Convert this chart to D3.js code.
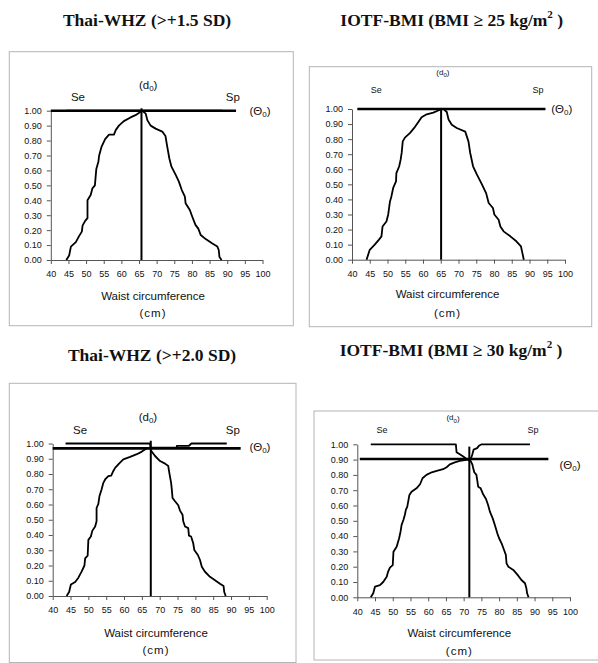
<!DOCTYPE html>
<html>
<head>
<meta charset="UTF-8">
<title>Se / Sp by waist circumference</title>
<script src="https://d3js.org/d3.v7.min.js"></script>
<style>
  body { margin: 0; background: #fff; }
  svg text { font-family: "Liberation Sans", Arial, sans-serif; fill: #111; }
  .title { font-family: "Liberation Serif", "Times New Roman", serif !important; font-weight: bold; }
</style>
</head>
<body>
<svg id="chart" width="598" height="663"></svg>
<script>
// ---- data ----
const titles = ["Thai-WHZ (>+1.5 SD)", "IOTF-BMI (BMI \u2265 25 kg/m", "Thai-WHZ (>+2.0 SD)", "IOTF-BMI (BMI \u2265 30 kg/m"];
const xTicks = [40, 45, 50, 55, 60, 65, 70, 75, 80, 85, 90, 95, 100];
const yTicks = [0, 0.1, 0.2, 0.3, 0.4, 0.5, 0.6, 0.7, 0.8, 0.9, 1.0];

// optimal cut-off (d0), its top end, and theta0 line level / extent
const cutoffs = [65.7, 65.1, 67.5, 71.6];
const cutTops = [1.016, 1.007, 1.018, 0.985];
const thetas = [1.0, 1.0, 0.968, 0.904];
const thetaFrom = [40, 41.5, 40, 40.7];
const thetaTo = [92.5, 94.5, 92.7, 93.9];

const whz15Se = [[44.4,1],[65.9,1],[66.9,0.98],[67.4,0.935],[68.3,0.90],[69.7,0.88],[71.6,0.86],[72.5,0.83],[73,0.76],[73.6,0.68],[74.2,0.625],[75.4,0.57],[76.3,0.525],[77.1,0.47],[78,0.425],[78.2,0.38],[79.4,0.335],[80.1,0.29],[81,0.235],[81.8,0.21],[82.5,0.167],[83.9,0.14],[85.8,0.11],[87.2,0.09],[87.6,0.067],[87.8,0.02],[88.4,0]];
const whz15Sp = [[44.4,0],[45.2,0.03],[45.7,0.09],[47.1,0.12],[48,0.16],[48.8,0.19],[49,0.23],[49.7,0.26],[50.4,0.28],[50.4,0.40],[51.3,0.435],[51.8,0.48],[52.5,0.50],[52.9,0.61],[53.5,0.66],[53.7,0.70],[54.4,0.76],[55.4,0.81],[56.5,0.84],[57.9,0.84],[58.4,0.87],[59.3,0.90],[60.7,0.93],[62.6,0.955],[64,0.97],[65.9,1.0],[88.6,1.0]];

const iotf25Se = [[43.9,1],[65.8,1],[66.7,0.98],[67.2,0.93],[68.1,0.896],[69.5,0.874],[71.9,0.85],[72.8,0.785],[73.3,0.708],[74.1,0.62],[75.2,0.564],[76.6,0.5],[77.8,0.44],[78.5,0.376],[79.7,0.343],[80.1,0.30],[81.3,0.265],[81.8,0.22],[82.7,0.188],[84.6,0.155],[86.3,0.122],[87.6,0.088],[87.9,0.055],[88.4,0]];
const iotf25Sp = [[44.1,0],[45,0.066],[46.4,0.10],[47.6,0.133],[48.3,0.155],[48.6,0.22],[49.7,0.254],[50.2,0.30],[50.7,0.387],[51.1,0.42],[51.6,0.476],[52.4,0.52],[52.5,0.575],[53.3,0.62],[53.7,0.664],[54,0.71],[54.3,0.785],[54.9,0.81],[56.3,0.84],[57.7,0.88],[58.7,0.914],[59.6,0.945],[60.8,0.962],[62.9,0.976],[64.3,0.99],[65.3,1.0],[88.9,1.0]];

const whz20Se = [[43.6,1],[67.3,1],[67.5,0.956],[68.7,0.918],[70.1,0.885],[71.5,0.868],[72.4,0.852],[72.7,0.808],[73.2,0.742],[73.4,0.698],[73.6,0.643],[74.3,0.621],[75.2,0.595],[75.7,0.56],[76.4,0.533],[76.6,0.49],[77.1,0.456],[78,0.445],[78.2,0.396],[78.8,0.39],[79.4,0.346],[79.7,0.302],[80.7,0.269],[81.3,0.236],[81.8,0.192],[82.7,0.159],[84.1,0.126],[85.5,0.104],[86.9,0.081],[87.9,0.066],[88.1,0.026],[88.5,0]];
const whz20Sp = [[43.9,0],[44.6,0.026],[45.1,0.075],[46.3,0.092],[47.2,0.12],[48.1,0.16],[48.9,0.2],[49.1,0.247],[49.8,0.264],[50,0.368],[50.7,0.39],[51.1,0.427],[51.9,0.456],[52.3,0.49],[52.3,0.577],[52.8,0.604],[53.1,0.654],[53.7,0.698],[54.2,0.742],[54.7,0.764],[55.6,0.786],[56.4,0.79],[57,0.82],[57.5,0.84],[58.6,0.868],[59.8,0.896],[61.7,0.912],[63.6,0.93],[65,0.947],[66.4,0.969],[67.5,0.972],[74.8,0.972],[74.8,0.985],[78.2,0.985],[78.9,1.0],[88.8,1.0]];

const iotf30Se = [[43.8,1],[67.8,1],[68,0.948],[68.9,0.935],[69.9,0.92],[70.8,0.904],[72,0.89],[72.5,0.865],[72.7,0.843],[73,0.817],[73.6,0.8],[74.1,0.723],[74.8,0.712],[75.5,0.673],[76.3,0.643],[76.9,0.603],[77.4,0.56],[78.2,0.516],[78.8,0.473],[79.5,0.418],[80,0.386],[80.7,0.353],[81.4,0.309],[81.9,0.277],[82.1,0.222],[82.6,0.2],[84,0.179],[85.1,0.15],[86.3,0.113],[87.3,0.092],[87.7,0.059],[87.9,0.026],[88.3,0]];
const iotf30Sp = [[43.8,0],[44.5,0.026],[45,0.07],[46.4,0.08],[47.3,0.10],[48.3,0.135],[48.7,0.168],[49.2,0.194],[50,0.21],[50.2,0.298],[51.1,0.331],[51.8,0.386],[52.2,0.43],[52.5,0.473],[53,0.505],[53.4,0.538],[53.7,0.571],[54.1,0.593],[54.7,0.669],[55.3,0.69],[56.7,0.712],[57.7,0.739],[58.4,0.778],[59.5,0.8],[61,0.817],[62.4,0.826],[64.2,0.837],[65.2,0.85],[66.1,0.869],[67.5,0.882],[68.9,0.891],[70.8,0.898],[72,0.904],[72.4,0.93],[72.8,0.965],[73.8,0.975],[74.3,0.99],[75.1,1.0],[88.7,1.0]];

const seCurves = [whz15Se, iotf25Se, whz20Se, iotf30Se];
const spCurves = [whz15Sp, iotf25Sp, whz20Sp, iotf30Sp];

// ---- layout of the four panels (pixels) ----
const layout = [
  { box: [9.3, 51.7, 293.3, 325.7], x: [50.8, 262.5], y: [260, 110.7], tx: 147, ty: 20, lx: 153, ly: [296, 313], small: false,
    se: [47.7, 1.092], sp: [91.6, 1.092], d0: [67.6, 1.172], th: [99.3, 1.0] },
  { box: [309.3, 66.7, 591.7, 326.7], x: [352, 565], y: [259.7, 109], tx: 451.7, ty: 20, lx: 447.5, ly: [294, 313], small: true,
    se: [46.8, 1.126], sp: [92.4, 1.126], d0: [65.6, 1.245], th: [99.1, 1.0] },
  { box: [9.3, 383.3, 296, 662.5], x: [52.7, 266.7], y: [596, 443.5], tx: 152, ty: 355, lx: 156, ly: [633, 650], small: false,
    se: [47.7, 1.089], sp: [90.5, 1.089], d0: [66.7, 1.174], th: [98.1, 0.975] },
  { box: [314, 411, 600, 660], x: [357.3, 570], y: [597.3, 444.3], tx: 451, ty: 350, lx: 459.3, ly: [633, 651], small: true,
    se: [47, 1.093], sp: [89.6, 1.093], d0: [67, 1.172], th: [100, 0.865] }
];

const svg = d3.select("#chart");

layout.forEach((L, i) => {
  const g = svg.append("g");

  // frame
  g.append("rect")
    .attr("x", L.box[0]).attr("y", L.box[1])
    .attr("width", L.box[2] - L.box[0]).attr("height", L.box[3] - L.box[1])
    .attr("fill", "none").attr("stroke", "#b4b4b4").attr("stroke-width", 1);

  // title
  const t = g.append("text").attr("class", "title")
    .attr("x", L.tx).attr("y", L.ty)
    .attr("text-anchor", "middle").attr("dominant-baseline", "central")
    .attr("font-size", 17.5).text(titles[i]);
  if (i % 2 == 1) {
    t.append("tspan").attr("font-size", 11).attr("dy", -6).text("2");
    t.append("tspan").attr("dy", 6).text(" )");
  }

  const x = d3.scaleLinear().domain([40, 100]).range(L.x);
  const y = d3.scaleLinear().domain([0, 1]).range(L.y);

  // axes
  const ya = g.append("g")
    .attr("transform", `translate(${L.x[0]},0)`)
    .call(d3.axisLeft(y).tickValues(yTicks).tickFormat(d3.format(".2f")).tickSize(4).tickSizeOuter(0).tickPadding(5));
  const xa = g.append("g")
    .attr("transform", `translate(0,${L.y[0]})`)
    .call(d3.axisBottom(x).tickValues(xTicks).tickSize(4).tickSizeOuter(0).tickPadding(7));
  [ya, xa].forEach(a => {
    a.attr("font-size", 9).attr("font-family", "Liberation Sans, Arial, sans-serif");
    a.selectAll("path, line").attr("stroke", "#555");
    a.selectAll("text").attr("fill", "#222");
  });

  // axis title
  g.append("text").attr("x", L.lx).attr("y", L.ly[0])
    .attr("text-anchor", "middle").attr("dominant-baseline", "central")
    .attr("font-size", 11.5).text("Waist circumference");
  g.append("text").attr("x", L.lx).attr("y", L.ly[1])
    .attr("text-anchor", "middle").attr("dominant-baseline", "central")
    .attr("font-size", 11.5).attr("letter-spacing", 1).text("(cm)");

  // Se and Sp curves
  const line = d3.line().x(d => x(d[0])).y(d => y(d[1]));
  [seCurves[i], spCurves[i]].forEach(c => {
    g.append("path").datum(c)
      .attr("d", line)
      .attr("fill", "none").attr("stroke", "#000")
      .attr("stroke-width", 1.8).attr("stroke-linejoin", "round");
  });

  // theta0 line
  g.append("line")
    .attr("x1", x(thetaFrom[i])).attr("x2", x(thetaTo[i]))
    .attr("y1", y(thetas[i])).attr("y2", y(thetas[i]))
    .attr("stroke", "#000").attr("stroke-width", 2.6);

  // cut-off line
  g.append("line")
    .attr("x1", x(cutoffs[i])).attr("x2", x(cutoffs[i]))
    .attr("y1", y(0)).attr("y2", y(cutTops[i]))
    .attr("stroke", "#000").attr("stroke-width", 2);

  // annotations
  const fs = L.small ? 9 : 11.5;
  const lab = (p, size) => g.append("text")
    .attr("x", x(p[0])).attr("y", y(p[1]))
    .attr("text-anchor", "middle").attr("dominant-baseline", "central")
    .attr("font-size", size);
  lab(L.se, fs).text("Se");
  lab(L.sp, fs).text("Sp");
  const d0 = lab(L.d0, L.small ? 8 : 11.5).text("(d");
  d0.append("tspan").attr("font-size", L.small ? 6 : 8).attr("dy", 3).text("0");
  d0.append("tspan").attr("dy", -3).text(")");
  const th = lab(L.th, 11.5).text("(\u0398");
  th.append("tspan").attr("font-size", 8).attr("dy", 3).text("0");
  th.append("tspan").attr("dy", -3).text(")");
});
</script>
</body>
</html>
